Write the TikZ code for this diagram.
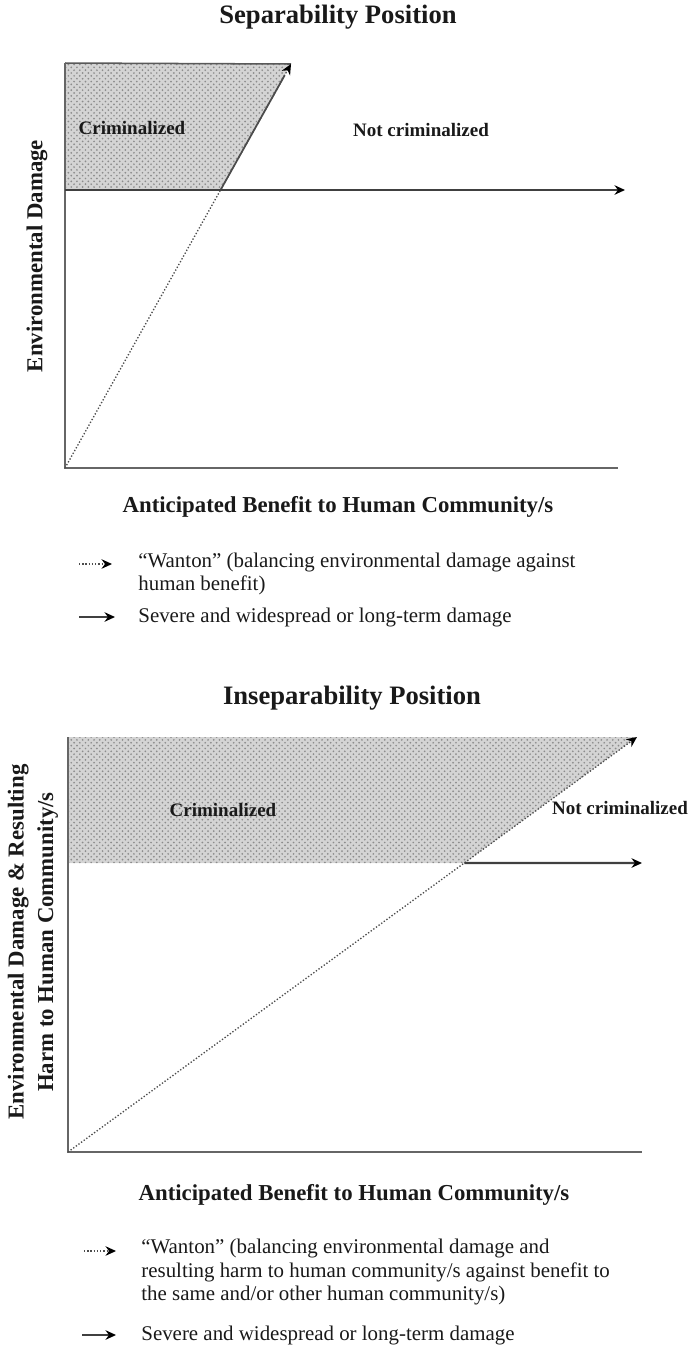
\documentclass[tikz,border=0pt]{standalone}
\usepackage{fontspec}
\setmainfont{Liberation Serif}
\usetikzlibrary{arrows.meta,patterns,positioning}

\begin{document}
\begin{tikzpicture}[
    x=0.5263pt, y=-0.5263pt,
    >={Stealth[length=5.5pt, width=5pt, color=black]},
    title/.style={font=\fontsize{14}{16}\selectfont\bfseries, text=black!90},
    axislabel/.style={font=\fontsize{12}{15.5}\selectfont\bfseries, align=center, text=black!90},
    zone/.style={font=\fontsize{10}{12}\selectfont\bfseries, text=black!90},
    legendtext/.style={font=\fontsize{11}{12.2}\selectfont, align=left, anchor=west, inner sep=0pt, text=black!90},
    crimzone/.style={preaction={fill=black!17}, pattern=crosshatch dots, pattern color=black!45},
    axisline/.style={draw=black!60, line width=1pt},
    wanton/.style={->, densely dotted, draw=black!70, line width=0.7pt},
    severe/.style={->, draw=black!75, line width=1.1pt}
]
\useasboundingbox (0,0) rectangle (692,1347);

% Separability position
\node[title] (titleA) at (338,17) {Separability Position};
\coordinate (oA) at (65,468);
\coordinate (topA) at (65,63);
\coordinate (tipA) at (291,64);
\coordinate (leftA) at (65,190);
\coordinate (endA) at (625,190);
\coordinate (xendA) at (618,468);
\coordinate (cutA) at (intersection of oA--tipA and leftA--endA);

\fill[crimzone] (topA) -- (tipA) -- (cutA) -- (leftA) -- cycle;
\draw[black!65, line width=0.8pt] (topA) -- (tipA);
\draw[axisline] (topA) -- (oA) -- (xendA);
\draw[wanton] (oA) -- (tipA);
\draw[black!70, line width=0.9pt, shorten >=7pt] (cutA) -- (tipA);
\draw[severe] (leftA) -- (endA);

\node[zone] (crimA) at (132,128) {Criminalized};
\node[zone] (notA) at (421,130) {Not criminalized};
\node[axislabel, rotate=90] (ylabA) at (37,256) {Environmental Damage};
\node[axislabel] (xlabA) at (338,507) {Anticipated Benefit to Human Community/s};

% legend
\coordinate (wA1) at (79,564);
\coordinate (wA2) at (112,564);
\draw[wanton] (wA1) -- (wA2);
\node[legendtext] (wantA) at (138,574) {“Wanton” (balancing environmental damage against\\human benefit)};
\coordinate (sA1) at (79,617);
\coordinate (sA2) at (115,617);
\draw[severe] (sA1) -- (sA2);
\node[legendtext] (sevA) at (138,617) {Severe and widespread or long-term damage};

% Inseparability position
\node[title] (titleB) at (352,698) {Inseparability Position};
\coordinate (oB) at (68,1152);
\coordinate (topB) at (68,737);
\coordinate (tipB) at (637,737);
\coordinate (leftB) at (68,863);
\coordinate (endB) at (642,863);
\coordinate (xendB) at (642,1152);
\coordinate (cutB) at (intersection of oB--tipB and leftB--endB);

\fill[crimzone] (topB) -- (tipB) -- (cutB) -- (leftB) -- cycle;
\draw[axisline] (topB) -- (oB) -- (xendB);
\draw[wanton] (oB) -- (tipB);
\draw[severe] (cutB) -- (endB);

\node[zone] (crimB) at (223,810) {Criminalized};
\node[zone] (notB) at (620,808) {Not criminalized};
\node[axislabel, rotate=90] (ylabB) at (33,942) {Environmental Damage \& Resulting\\Harm to Human Community/s};
\node[axislabel] (xlabB) at (354,1195) {Anticipated Benefit to Human Community/s};

% legend
\coordinate (wB1) at (84,1251);
\coordinate (wB2) at (116,1251);
\draw[wanton] (wB1) -- (wB2);
\node[legendtext] (wantB) at (141,1272) {“Wanton” (balancing environmental damage and\\resulting harm to human community/s against benefit to\\the same  and/or other human community/s)};
\coordinate (sB1) at (82,1335);
\coordinate (sB2) at (116,1335);
\draw[severe] (sB1) -- (sB2);
\node[legendtext] (sevB) at (141,1335) {Severe and widespread or long-term damage};

\end{tikzpicture}
\end{document}
